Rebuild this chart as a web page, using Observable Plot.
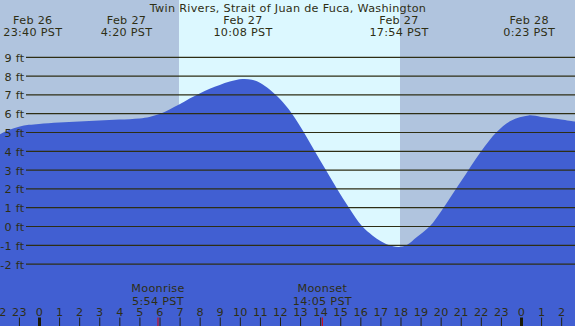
<!DOCTYPE html>
<html>
<head>
<meta charset="utf-8">
<script src="https://cdn.jsdelivr.net/npm/d3@7"></script>
<script src="https://cdn.jsdelivr.net/npm/@observablehq/plot@0.6"></script>
<style>
  html, body { margin: 0; padding: 0; background: #ffffff; }
</style>
</head>
<body>
<div id="chart"></div>
<script>
// Hours measured from Feb 27 00:00 PST
const title = "Twin Rivers, Strait of Juan de Fuca, Washington";

const tideHours = [-2, -1.5, -1, -0.5, 0, 1, 2, 3, 4, 5, 5.5, 6, 6.5, 7, 7.5, 8, 8.5, 9, 9.5, 10.13, 10.6, 11, 11.5, 12, 12.58, 13.18, 13.72, 14.27, 14.83, 15.42, 16.08, 16.6, 17, 17.38, 17.9, 18.33, 18.8, 19.47, 20, 21, 22, 22.79, 23.5, 24.38, 25, 26, 26.7];
const tideFeet  = [4.85, 5.1, 5.28, 5.38, 5.43, 5.5, 5.56, 5.61, 5.66, 5.72, 5.8, 5.95, 6.2, 6.47, 6.78, 7.05, 7.3, 7.5, 7.68, 7.82, 7.78, 7.62, 7.25, 6.75, 6.0, 5.0, 4.0, 3.0, 2.0, 1.0, 0.0, -0.5, -0.8, -1.0, -1.12, -1.0, -0.6, 0.0, 0.75, 2.35, 3.95, 5.0, 5.6, 5.88, 5.8, 5.67, 5.55];

const eventHours = [-0.333, 4.333, 10.133, 17.9, 24.383];
const eventDates = ["Feb 26", "Feb 27", "Feb 27", "Feb 27", "Feb 28"];
const eventTimes = ["23:40 PST", "4:20 PST", "10:08 PST", "17:54 PST", "0:23 PST"];

const moonHours = [5.9, 14.083];
const moonNames = ["Moonrise", "Moonset"];
const moonTimes = ["5:54 PST", "14:05 PST"];

const sunrise = 6.97, sunset = 17.975;
const bandStart = [-3, sunrise, sunset];
const bandEnd   = [sunrise, sunset, 28];
const bandKind  = ["night", "day", "night"];

const levels = [-2, -1, 0, 1, 2, 3, 4, 5, 6, 7, 8, 9];
const hourTicks = d3.range(-2, 27);

const xDomain = [-1.942, 26.689];
const yDomain = [-5.32, 12.02];

const tide = tideHours.map((h, i) => ({h, v: tideFeet[i]}));
const events = eventHours.map((h, i) => ({h, label: `${eventDates[i]}\n${eventTimes[i]}`}));
const moons = moonHours.map((h, i) => ({h, label: `${moonNames[i]}\n${moonTimes[i]}`}));
const bands = bandStart.map((s, i) => ({s, e: bandEnd[i], kind: bandKind[i]}));

const ink = "#2e2e14";
const W = 575, H = 326;
// helpers converting pixel offsets to scale units (layout only)
const pxToH = px => xDomain[0] + (xDomain[1] - xDomain[0]) * px / W;
const pxToFt = py => yDomain[1] - (yDomain[1] - yDomain[0]) * py / H;

const chart = Plot.plot({
  width: W,
  height: H,
  margin: 0,
  x: {domain: xDomain, axis: null},
  y: {domain: yDomain, axis: null},
  color: {domain: ["night", "day"], range: ["#b0c4de", "#dcf8ff"]},
  style: `font-family: 'DejaVu Sans'; font-size: 11.2px; letter-spacing: 0.3px; color: ${ink}; background: #b0c4de;`,
  marks: [
    Plot.rect(bands, {x1: "s", x2: "e", fill: "kind", clip: true}),
    Plot.areaY(tide, {x: "h", y1: yDomain[0], y2: "v", fill: "#415fd2", curve: "catmull-rom", clip: true}),
    Plot.ruleY(levels, {y: d => d, x1: pxToH(26), x2: xDomain[1], stroke: ink, strokeWidth: 1.2}),
    Plot.text(levels, {x: xDomain[0], y: d => d, text: d => `${d} ft`, textAnchor: "end", dx: 24, dy: 1, fill: ink}),
    Plot.text([title], {frameAnchor: "top", lineAnchor: "bottom", dy: 11, text: d => d, fill: ink}),
    Plot.text(events, {x: "h", frameAnchor: "top", lineAnchor: "bottom", dy: 35.5, text: "label", lineHeight: 1.05, fill: ink}),
    Plot.text(moons, {x: "h", frameAnchor: "bottom", lineAnchor: "bottom", dy: -22, text: "label", lineHeight: 1.1, fill: ink}),
    Plot.text(hourTicks, {x: d => d, frameAnchor: "bottom", lineAnchor: "bottom", dy: -10.3, text: d => String(((d % 24) + 24) % 24), fill: ink}),
    Plot.ruleX(hourTicks.filter(d => d % 24 !== 0), {x: d => d, y1: pxToFt(317.5), y2: yDomain[0], stroke: "#222211", strokeWidth: 1}),
    Plot.ruleX(hourTicks.filter(d => d % 24 === 0), {x: d => d, y1: pxToFt(317.5), y2: yDomain[0], stroke: "#1a1a08", strokeWidth: 3}),
    Plot.ruleX(moonHours, {x: d => d, y1: pxToFt(317.5), y2: yDomain[0], stroke: "#e00000", strokeWidth: 1})
  ]
});
document.getElementById("chart").appendChild(chart);
</script>
</body>
</html>
